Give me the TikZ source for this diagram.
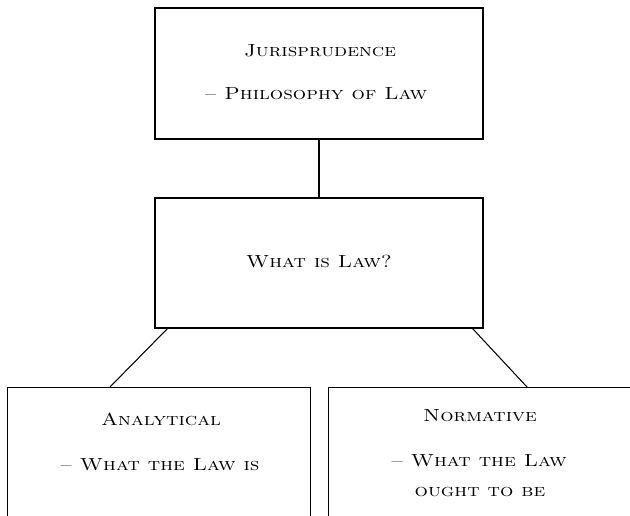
\documentclass[tikz,border=0pt]{standalone}
\usetikzlibrary{calc}
% small caps, set a little wider than the face's natural width
\newcommand{\widesc}[1]{\scalebox{1.2}[1]{#1}}
\begin{document}
\begin{tikzpicture}[x=1pt,y=1pt,
  box/.style={draw, line width=1.05pt, minimum width=#1, inner sep=0pt},
  lbl/.style={anchor=base, inner sep=0pt, font=\fontsize{17.5}{20}\selectfont\scshape},
  link/.style={line width=1.05pt}]
  \useasboundingbox (0,0) rectangle (630,-516);
  \clip (0,0) rectangle (630,-516);
  % boxes
  \node[box=328pt, minimum height=131pt] (jur) at (319,-73.5) {};
  \node[box=328pt, minimum height=130pt] (what) at (319,-263) {};
  \node[box=303pt, minimum height=200pt, anchor=north west] (ana) at (7,-387) {};
  \node[box=330pt, minimum height=200pt, anchor=north west] (nor) at (328,-387) {};
  % texts
  \node[lbl] (t1) at (320,-57) {\widesc{Jurisprudence}};
  \node[lbl] (t2) at (316,-100) {\widesc{-- Philosophy of Law}};
  \node[lbl] (t3) at (319,-268) {\widesc{What is Law?}};
  \node[lbl] (t4) at (161,-425) {\widesc{Analytical}};
  \node[lbl] (t5) at (160,-470) {\widesc{-- What the Law is}};
  \node[lbl] (t6) at (480,-421) {\widesc{Normative}};
  \node[lbl] (t7) at (479,-466) {\widesc{-- What the Law}};
  \node[lbl] (t8) at (480,-496) {\widesc{ought to be}};
  % connectors
  \draw[link] (jur.south) -- (what.north);
  \draw[link] ($(what.south west)+(13,0)$) -- ($(ana.north west)+(103,0)$);
  \draw[link] ($(what.south east)+(-11,0)$) -- ($(nor.north west)+(199,0)$);
\end{tikzpicture}
\end{document}
